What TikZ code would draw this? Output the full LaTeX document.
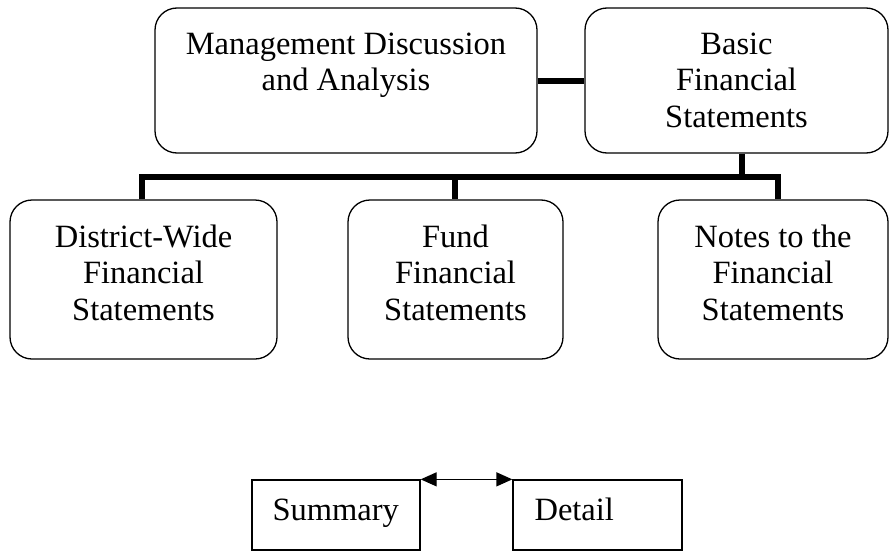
\documentclass[tikz,border=0pt]{standalone}
\usepackage{fontspec}
\setmainfont{Liberation Serif}
\usetikzlibrary{arrows.meta}
\begin{document}
\begin{tikzpicture}[x=1pt,y=-1pt,
  rbox/.style={draw,line width=1.3pt,rounded corners=22pt,inner sep=0pt},
  sbox/.style={draw,line width=1.3pt,inner sep=0pt},
  txt/.style={font=\fontsize{32.5}{36.5}\selectfont,align=center,inner sep=0pt,anchor=north},
  stxt/.style={font=\fontsize{32.5}{36.5}\selectfont,inner sep=0pt,anchor=base west},
  bus/.style={line width=6pt,line join=miter},
  tip/.style={line width=1.3pt,{Triangle[length=16pt,width=14pt]}-{Triangle[length=16pt,width=14pt]}}
  ]
\useasboundingbox (0,0) rectangle (890,551);
% boxes
\node[rbox,minimum width=382pt,minimum height=145pt] (mda) at (346,80.5) {};
\node[rbox,minimum width=303pt,minimum height=145pt] (basic) at (736.5,80.5) {};
\node[rbox,minimum width=267pt,minimum height=159pt] (dist) at (143.5,279.5) {};
\node[rbox,minimum width=215pt,minimum height=159pt] (fund) at (455.5,279.5) {};
\node[rbox,minimum width=230pt,minimum height=159pt] (notes) at (773,279.5) {};
\node[sbox,minimum width=168pt,minimum height=70pt] (sum) at (336,515) {};
\node[sbox,minimum width=169pt,minimum height=70pt] (det) at (597.5,515) {};
% texts
\node[txt] (mdat) at ([yshift=-25pt]mda.north) {Management Discussion\\and Analysis};
\node[txt] (basict) at ([yshift=-25pt]basic.north) {Basic\\Financial\\Statements};
\node[txt] (distt) at ([yshift=-25pt]dist.north) {District-Wide\\Financial\\Statements};
\node[txt] (fundt) at ([yshift=-25pt]fund.north) {Fund\\Financial\\Statements};
\node[txt] (notest) at ([yshift=-25pt]notes.north) {Notes to the\\Financial\\Statements};
\node[stxt] (sumt) at ([xshift=21pt,yshift=-41pt]sum.north west) {Summary};
\node[stxt] (dett) at ([xshift=22pt,yshift=-41pt]det.north west) {Detail};
% connectors
\coordinate (b1) at (142,177);
\coordinate (b2) at (455,177);
\coordinate (b3) at (778,177);
\coordinate (bj) at (742,177);
\draw[bus] (mda.east) -- (basic.west);
\draw[bus] (bj |- basic.south) -- (bj);
\draw[bus] (b1 |- dist.north) -- (b1) -- (b3) -- (b3 |- notes.north);
\draw[bus] (b2) -- (b2 |- fund.north);
\draw[tip] (sum.north east) -- (det.north west);
\end{tikzpicture}
\end{document}
